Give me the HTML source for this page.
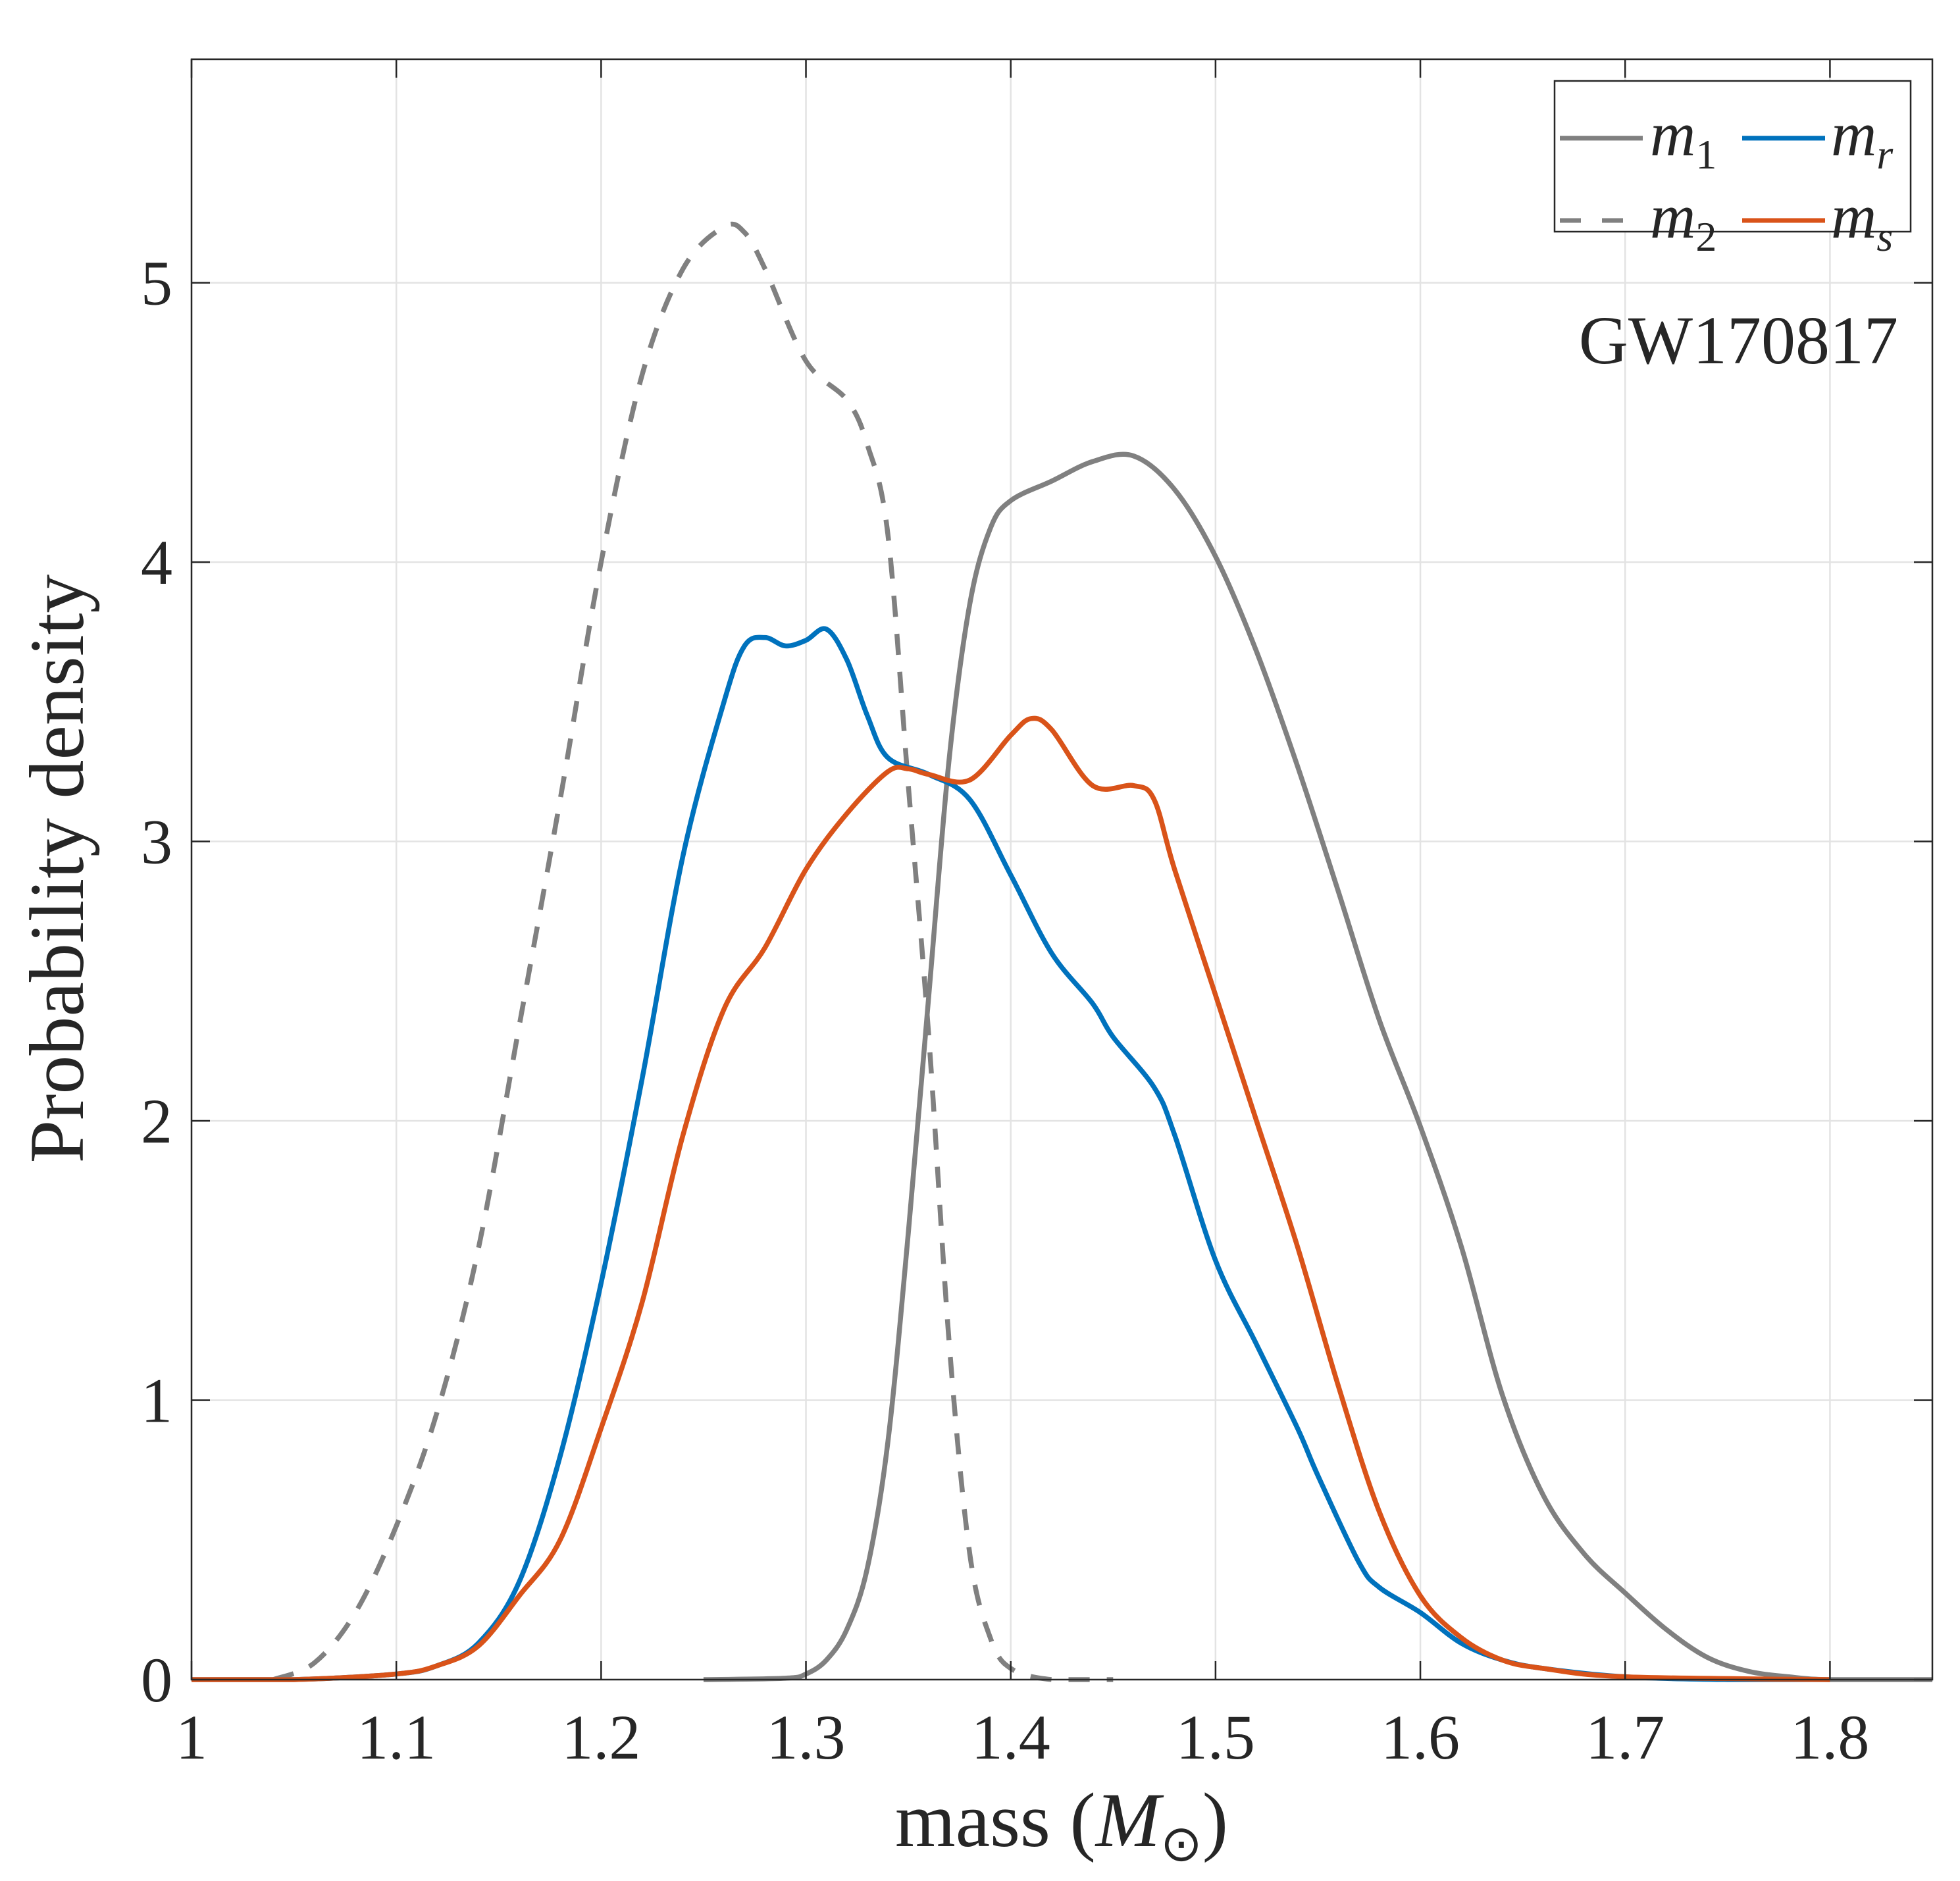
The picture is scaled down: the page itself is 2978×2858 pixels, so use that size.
<!DOCTYPE html>
<html><head><meta charset="utf-8"><style>
html,body{margin:0;padding:0;background:#fff}
svg text{font-family:"Liberation Serif",serif;fill:#262626}
</style></head><body>
<svg id="chart" xmlns="http://www.w3.org/2000/svg" width="2978" height="2853" viewBox="0 0 2978 2853">
<rect x="0" y="0" width="2978" height="2853" fill="#fff"/>
<g id="grid"></g>
<g id="series"></g>
<rect x="291" y="90" width="2645" height="2462" fill="none" stroke="#262626" stroke-width="2.5"/>
<g id="ticks"></g>
<text x="1613" y="2805" font-size="118" text-anchor="middle">mass (<tspan font-style="italic">M</tspan><tspan font-size="76" dy="22">⊙</tspan><tspan dy="-22">)</tspan></text>
<text x="0" y="0" font-size="118" text-anchor="middle" transform="translate(126,1320) rotate(-90)">Probability density</text>
<text x="2884" y="552" font-size="104" text-anchor="end" fill="#000">GW170817</text>
<g>
<rect x="2362" y="123" width="541" height="229" fill="#fff" stroke="#262626" stroke-width="2.5"/>
<line x1="2370" y1="210" x2="2496" y2="210" stroke="#808080" stroke-width="7"/>
<text x="2507" y="236" font-size="96" font-style="italic" fill="#000">m<tspan font-style="normal" font-size="64" dy="20">1</tspan></text>
<line x1="2647" y1="210" x2="2773" y2="210" stroke="#0072BD" stroke-width="7"/>
<text x="2782" y="236" font-size="96" font-style="italic" fill="#000">m<tspan font-size="64" dy="20">r</tspan></text>
<line x1="2370" y1="335" x2="2466" y2="335" stroke="#808080" stroke-width="7" stroke-dasharray="32 32"/>
<text x="2507" y="361" font-size="96" font-style="italic" fill="#000">m<tspan font-style="normal" font-size="64" dy="20">2</tspan></text>
<line x1="2647" y1="335" x2="2773" y2="335" stroke="#D95319" stroke-width="7"/>
<text x="2782" y="361" font-size="96" font-style="italic" fill="#000">m<tspan font-size="64" dy="20">s</tspan></text>
</g>
</svg>
<script>
const xTicks = [1, 1.1, 1.2, 1.3, 1.4, 1.5, 1.6, 1.7, 1.8];
const xTickLabels = ["1", "1.1", "1.2", "1.3", "1.4", "1.5", "1.6", "1.7", "1.8"];
const yTicks = [0, 1, 2, 3, 4, 5];
const yTickLabels = ["0", "1", "2", "3", "4", "5"];
const m1X = [1.25,1.29,1.30,1.31,1.32,1.33,1.34,1.35,1.36,1.37,1.38,1.39,1.40,1.42,1.44,1.46,1.48,1.50,1.52,1.54,1.56,1.58,1.60,1.62,1.64,1.66,1.68,1.70,1.72,1.74,1.76,1.78,1.80,1.85];
const m1Y = [0,0.005,0.02,0.07,0.18,0.4,0.85,1.6,2.45,3.3,3.85,4.12,4.22,4.29,4.36,4.38,4.26,4.02,3.68,3.27,2.82,2.36,1.98,1.55,1.02,0.66,0.45,0.31,0.18,0.08,0.03,0.01,0,0];
const m2X = [1.04,1.06,1.08,1.10,1.12,1.14,1.16,1.18,1.20,1.22,1.24,1.26,1.27,1.28,1.30,1.32,1.33,1.34,1.35,1.36,1.37,1.38,1.39,1.40,1.42,1.45];
const m2Y = [0,0.06,0.24,0.55,0.96,1.54,2.34,3.15,4.0,4.67,5.05,5.2,5.18,5.05,4.72,4.58,4.42,4.1,3.2,2.3,1.2,0.45,0.15,0.04,0,0];
const mrX = [1.0,1.05,1.10,1.12,1.14,1.16,1.18,1.20,1.22,1.24,1.26,1.27,1.28,1.29,1.30,1.31,1.32,1.33,1.34,1.36,1.38,1.40,1.42,1.44,1.45,1.47,1.48,1.50,1.52,1.54,1.55,1.57,1.58,1.60,1.62,1.64,1.66,1.70,1.75,1.80];
const mrY = [0,0,0.02,0.05,0.13,0.35,0.8,1.42,2.15,2.95,3.5,3.7,3.73,3.7,3.72,3.76,3.65,3.45,3.3,3.24,3.15,2.88,2.6,2.42,2.3,2.12,1.95,1.5,1.2,0.9,0.73,0.42,0.33,0.24,0.13,0.07,0.04,0.01,0,0];
const msX = [1.0,1.05,1.10,1.12,1.14,1.16,1.18,1.20,1.22,1.24,1.26,1.28,1.30,1.32,1.34,1.35,1.36,1.38,1.40,1.41,1.42,1.44,1.46,1.47,1.48,1.50,1.52,1.54,1.56,1.58,1.60,1.62,1.64,1.66,1.70,1.80];
const msY = [0,0,0.02,0.05,0.12,0.3,0.5,0.9,1.35,1.95,2.4,2.62,2.9,3.1,3.25,3.26,3.24,3.22,3.38,3.44,3.4,3.2,3.2,3.15,2.9,2.45,2.0,1.55,1.05,0.6,0.3,0.15,0.07,0.04,0.01,0];

const L=291,R=2936,T=90,B=2552,XMIN=1,XMAX=1.85,YMIN=0,YMAX=5.8;
function sx(v){return L+(v-XMIN)/(XMAX-XMIN)*(R-L);}
function sy(v){return B-(v-YMIN)/(YMAX-YMIN)*(B-T);}
const NS="http://www.w3.org/2000/svg";
function mk(tag,attrs,parent){const e=document.createElementNS(NS,tag);for(const k in attrs)e.setAttribute(k,attrs[k]);parent.appendChild(e);return e;}
const grid=document.getElementById('grid'),ticks=document.getElementById('ticks'),series=document.getElementById('series');
xTicks.forEach((v,i)=>{
  const g=mk('line',{x1:sx(v),x2:sx(v),y1:T,y2:B,stroke:'#e3e3e3','stroke-width':2.5},grid);
  
  
  const t1=mk('line',{x1:sx(v),x2:sx(v),y1:B,y2:B-28,stroke:'#262626','stroke-width':2.5},ticks);
  
  
  const t2=mk('line',{x1:sx(v),x2:sx(v),y1:T,y2:T+28,stroke:'#262626','stroke-width':2.5},ticks);
  
  
  const tx=mk('text',{x:sx(v),y:2672,'font-size':96,'text-anchor':'middle'},ticks);
  tx.textContent=xTickLabels[i];
  
  
});
yTicks.forEach((v,i)=>{
  const g=mk('line',{x1:L,x2:R,y1:sy(v),y2:sy(v),stroke:'#e3e3e3','stroke-width':2.5},grid);
  
  
  const t1=mk('line',{x1:L,x2:L+28,y1:sy(v),y2:sy(v),stroke:'#262626','stroke-width':2.5},ticks);
  
  
  const t2=mk('line',{x1:R,x2:R-28,y1:sy(v),y2:sy(v),stroke:'#262626','stroke-width':2.5},ticks);
  
  
  const tx=mk('text',{x:262,y:sy(v)+33,'font-size':96,'text-anchor':'end'},ticks);
  tx.textContent=yTickLabels[i];
  
  
});
function pathD(xs,ys){
  const p=xs.map((x,i)=>[sx(x),sy(ys[i])]);
  let d='M'+p[0][0]+','+p[0][1];
  for(let i=0;i<p.length-1;i++){
    const p0=p[Math.max(0,i-1)],p1=p[i],p2=p[i+1],p3=p[Math.min(p.length-1,i+2)];
    const c1=[p1[0]+(p2[0]-p0[0])/6,p1[1]+(p2[1]-p0[1])/6];
    const c2=[p2[0]-(p3[0]-p1[0])/6,p2[1]-(p3[1]-p1[1])/6];
    c1[1]=Math.min(c1[1],B);c2[1]=Math.min(c2[1],B);
    d+=' C'+c1[0]+','+c1[1]+' '+c2[0]+','+c2[1]+' '+p2[0]+','+p2[1];
  }
  return d;
}
const m2p=mk('path',{d:pathD(m2X,m2Y),fill:'none',stroke:'#808080','stroke-width':7.5,'stroke-dasharray':'32 26'},series);


const m1p=mk('path',{d:pathD(m1X,m1Y),fill:'none',stroke:'#808080','stroke-width':7.5},series);


const mrp=mk('path',{d:pathD(mrX,mrY),fill:'none',stroke:'#0072BD','stroke-width':7.5},series);


const msp=mk('path',{d:pathD(msX,msY),fill:'none',stroke:'#D95319','stroke-width':7.5},series);


</script>
</body></html>
